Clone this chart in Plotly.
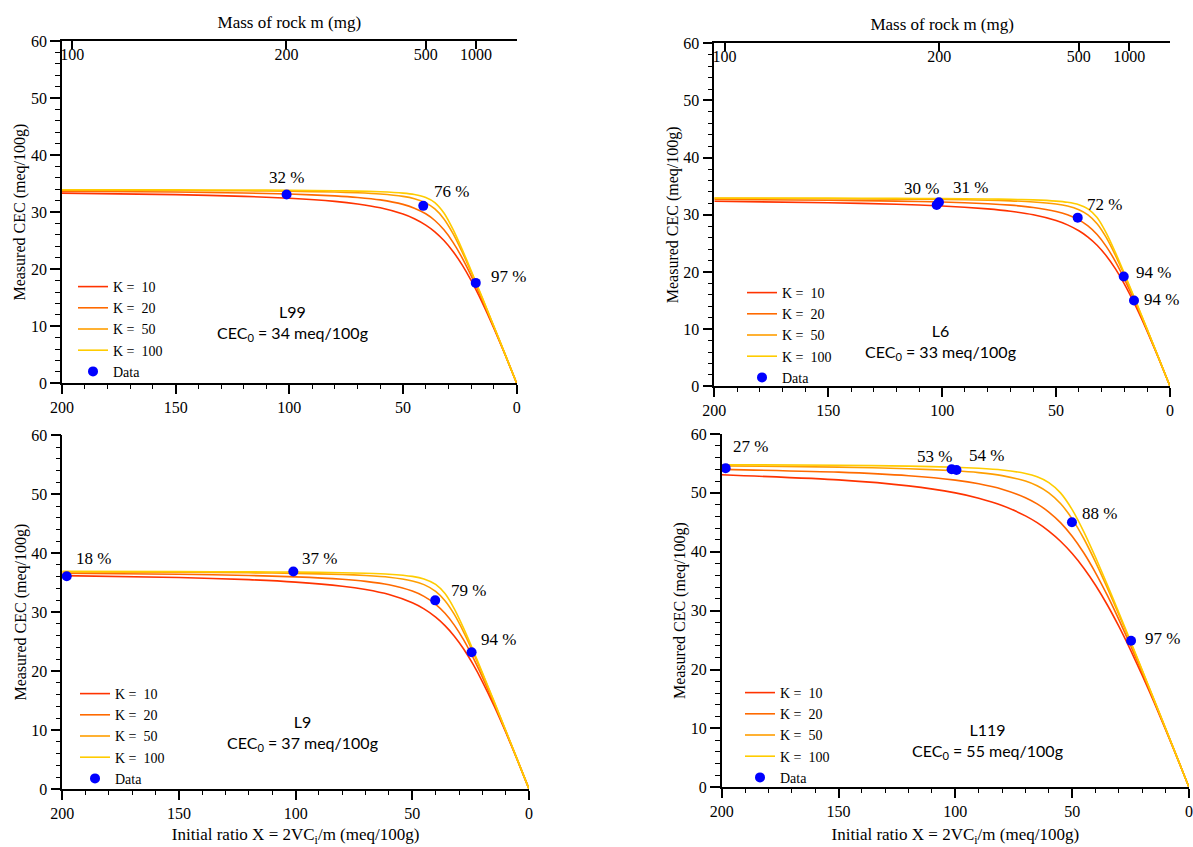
import plotly.graph_objects as go

# ------------------------------------------------------------------ data
K_LABELS = ['K =\u00a0 10', 'K =\u00a0 20', 'K =\u00a0 50', 'K =\u00a0 100']

X_A = [200, 150, 120, 100, 80, 70, 60, 50, 45, 40, 36, 32, 28, 24, 20, 15, 10, 5, 0]
X_B = [200, 150, 120, 100, 90, 80, 70, 65, 60, 55, 50, 45, 40, 35, 30, 25, 20, 15, 10, 5, 0]

# L99, CEC0 = 34
L99_K10 = [33.33, 33.07, 32.77, 32.44, 31.89, 31.44, 30.76, 29.67, 28.85, 27.73, 26.55, 25.02, 23.10, 20.75, 17.98, 14.02, 9.62, 4.92, 0]
L99_K20 = [33.66, 33.52, 33.36, 33.18, 32.85, 32.58, 32.15, 31.36, 30.70, 29.71, 28.54, 26.90, 24.71, 21.99, 18.83, 14.46, 9.80, 4.96, 0]
L99_K50 = [33.86, 33.80, 33.74, 33.66, 33.52, 33.39, 33.18, 32.76, 32.35, 31.62, 30.56, 28.81, 26.23, 23.03, 19.48, 14.77, 9.92, 4.98, 0]
L99_K100 = [33.93, 33.90, 33.87, 33.83, 33.75, 33.69, 33.57, 33.33, 33.08, 32.57, 31.68, 29.85, 26.97, 23.48, 19.73, 14.88, 9.96, 4.99, 0]
L99_DATA_X = [101.2, 41.1, 18.0]
L99_DATA_Y = [33.1, 31.1, 17.6]
L99_PCT = ['32 %', '76 %', '97 %']

# L6, CEC0 = 33
L6_K10 = [32.37, 32.12, 31.85, 31.55, 31.03, 30.62, 30.00, 29.00, 28.24, 27.21, 26.11, 24.68, 22.85, 20.59, 17.88, 13.97, 9.61, 4.91, 0]
L6_K20 = [32.68, 32.55, 32.40, 32.23, 31.94, 31.69, 31.29, 30.59, 30.00, 29.11, 28.05, 26.54, 24.48, 21.86, 18.76, 14.44, 9.79, 4.96, 0]
L6_K50 = [32.87, 32.82, 32.75, 32.68, 32.55, 32.44, 32.25, 31.88, 31.53, 30.90, 30.00, 28.45, 26.05, 22.95, 19.44, 14.76, 9.91, 4.98, 0]
L6_K100 = [32.93, 32.91, 32.88, 32.84, 32.77, 32.71, 32.61, 32.40, 32.19, 31.77, 31.05, 29.51, 26.83, 23.43, 19.71, 14.88, 9.96, 4.99, 0]
L6_DATA_X = [102.4, 101.4, 40.5, 20.3, 15.8]
L6_DATA_Y = [31.7, 32.2, 29.5, 19.2, 15.0]
L6_PCT = ['30 %', '31 %', '72 %', '94 %', '94 %']

# L9, CEC0 = 37
L9_K10 = [36.20, 35.87, 35.51, 35.10, 34.40, 33.83, 32.98, 31.58, 30.55, 29.16, 27.72, 25.93, 23.75, 21.17, 18.23, 14.13, 9.66, 4.92, 0]
L9_K20 = [36.59, 36.42, 36.22, 35.99, 35.58, 35.22, 34.64, 33.57, 32.67, 31.33, 29.81, 27.80, 25.28, 22.31, 19.00, 14.53, 9.82, 4.96, 0]
L9_K50 = [36.83, 36.76, 36.68, 36.58, 36.39, 36.22, 35.93, 35.30, 34.67, 33.53, 31.95, 29.62, 26.63, 23.22, 19.56, 14.80, 9.93, 4.98, 0]
L9_K100 = [36.92, 36.88, 36.84, 36.79, 36.69, 36.60, 36.44, 36.07, 35.64, 34.72, 33.15, 30.55, 27.24, 23.59, 19.77, 14.90, 9.96, 4.99, 0]
L9_DATA_X = [198.1, 101.0, 40.2, 24.6]
L9_DATA_Y = [36.1, 36.9, 32.0, 23.2]
L9_PCT = ['18 %', '37 %', '79 %', '94 %']

# L119, CEC0 = 55
L119_K10 = [53.08, 52.21, 51.19, 50.00, 49.10, 47.87, 46.10, 44.94, 43.51, 41.79, 39.70, 37.21, 34.31, 31.00, 27.31, 23.29, 19.00, 14.48, 9.79, 4.95, 0]
L119_K20 = [54.00, 53.52, 52.91, 52.16, 51.55, 50.63, 49.19, 48.13, 46.75, 44.95, 42.64, 39.79, 36.43, 32.62, 28.47, 24.06, 19.47, 14.73, 9.89, 4.97, 0]
L119_K50 = [54.59, 54.38, 54.11, 53.75, 53.44, 52.93, 52.00, 51.20, 50.00, 48.19, 45.59, 42.21, 38.25, 33.91, 29.33, 24.60, 19.78, 14.89, 9.96, 4.99, 0]
L119_K100 = [54.79, 54.69, 54.55, 54.35, 54.18, 53.89, 53.30, 52.73, 51.75, 50.00, 47.16, 43.38, 39.04, 34.42, 29.65, 24.80, 19.89, 14.94, 9.98, 4.99, 0]
L119_DATA_X = [198.3, 101.6, 99.5, 50.1, 24.8]
L119_DATA_Y = [54.2, 54.0, 53.9, 45.0, 24.9]
L119_PCT = ['27 %', '53 %', '54 %', '88 %', '97 %']

X_TICKS = [200, 150, 100, 50, 0]
Y_TICKS = [0, 10, 20, 30, 40, 50, 60]
MASS_TICK_X = [195.5, 101.3, 40.0, 17.9]
MASS_TICK_TEXT = ['100', '200', '500', '1000']

# ------------------------------------------------------------------ style
SERIF = 'Liberation Serif'
SANS = 'Lato'
COLORS = ['#ff3300', '#ff6a00', '#ff9e00', '#ffcc00']
BLUE = '#0000ff'
W, H = 1193, 847

panels = [
    dict(curves=[L99_K10, L99_K20, L99_K50, L99_K100], xg=X_A,
         dx=L99_DATA_X, dy=L99_DATA_Y, pct=L99_PCT,
         lab=[('center', 0, 17), ('left', 9, 14), ('left', 13, 6)],
         name='L99', cec='34', tx=98.4, ty=10.5,
         dom_x=(62, 516.7), dom_y=(41, 383.3), leg=(73, 271), top=True, bottom_title=False),
    dict(curves=[L6_K10, L6_K20, L6_K50, L6_K100], xg=X_A,
         dx=L6_DATA_X, dy=L6_DATA_Y, pct=L6_PCT,
         lab=[('right', 4, 17), ('left', 12, 15), ('left', 7, 13), ('left', 10, 4), ('left', 8, 1)],
         name='L6', cec='33', tx=100.9, ty=7.7,
         dom_x=(714.3, 1170), dom_y=(43.3, 386.3), leg=(742, 277), top=True, bottom_title=False),
    dict(curves=[L9_K10, L9_K20, L9_K50, L9_K100], xg=X_A,
         dx=L9_DATA_X, dy=L9_DATA_Y, pct=L9_PCT,
         lab=[('left', 7, 18), ('left', 7, 13), ('left', 14, 10), ('left', 7, 13)],
         name='L9', cec='37', tx=96.9, ty=9.5,
         dom_x=(62.3, 529), dom_y=(435.3, 789), leg=(75, 678), top=False, bottom_title=True),
    dict(curves=[L119_K10, L119_K20, L119_K50, L119_K100], xg=X_B,
         dx=L119_DATA_X, dy=L119_DATA_Y, pct=L119_PCT,
         lab=[('left', 5, 22), ('right', 2, 13), ('left', 10, 14), ('left', 8, 9), ('left', 12, 2)],
         name='L119', cec='55', tx=86.3, ty=7.8,
         dom_x=(721.7, 1189), dom_y=(434, 787.3), leg=(740, 677), top=False, bottom_title=True),
]

fig = go.Figure()
annotations = []
layout = dict(
    template='none',
    width=W, height=H, margin=dict(l=0, r=0, t=0, b=0, autoexpand=False),
    paper_bgcolor='white', plot_bgcolor='white', showlegend=True,
    font=dict(family=SERIF, color='black'),
)

top_count = 0
for i, p in enumerate(panels):
    sfx = '' if i == 0 else str(i + 1)
    xa, ya = 'x' + sfx, 'y' + sfx
    legname = 'legend' + sfx
    for j, curve in enumerate(p['curves']):
        fig.add_trace(go.Scatter(
            x=p['xg'], y=curve, mode='lines', name=K_LABELS[j],
            line=dict(color=COLORS[j], width=1.6, shape='spline', smoothing=0.6),
            xaxis=xa, yaxis=ya, legend=legname, hoverinfo='skip'))
    fig.add_trace(go.Scatter(
        x=p['dx'], y=p['dy'], mode='markers', name='Data',
        marker=dict(color=BLUE, size=10),
        error_y=dict(type='constant', value=0.3, color=BLUE, thickness=1, width=3),
        xaxis=xa, yaxis=ya, legend=legname, cliponaxis=False))

    x0, x1 = p['dom_x']
    y0, y1 = p['dom_y']
    xdom = [x0 / W, x1 / W]
    ydom = [1 - y1 / H, 1 - y0 / H]
    xax = dict(
        domain=xdom, anchor=ya, range=[200, 0], tickmode='array', tickvals=X_TICKS,
        automargin=False,
        ticks='outside', ticklen=9, tickwidth=1.5, tickcolor='black',
        showline=True, linecolor='black', linewidth=1.5,
        showgrid=False, zeroline=False,
        tickfont=dict(family=SERIF, size=16, color='black'),
        minor=dict(dtick=10, tick0=0, ticks='outside', ticklen=4, tickwidth=1.2, tickcolor='black', showgrid=False),
    )
    if p['bottom_title']:
        xax['title'] = dict(text='Initial ratio X = 2VC<sub>i</sub>/m (meq/100g)',
                            font=dict(family=SERIF, size=17, color='black'), standoff=11)
    yax = dict(
        domain=ydom, anchor=xa, range=[0, 60], tickmode='array', tickvals=Y_TICKS,
        automargin=False,
        ticks='outside', ticklen=10, tickwidth=1.5, tickcolor='black',
        showline=True, linecolor='black', linewidth=1.5,
        showgrid=False, zeroline=False,
        tickfont=dict(family=SERIF, size=16, color='black'),
        minor=dict(dtick=2, tick0=0, ticks='outside', ticklen=5, tickwidth=1.2, tickcolor='black', showgrid=False),
        title=dict(text='Measured CEC (meq/100g)', font=dict(family=SERIF, size=16, color='black'), standoff=1),
    )
    layout['xaxis' + sfx] = xax
    layout['yaxis' + sfx] = yax

    if p['top']:
        top_count += 1
        tsfx = str(4 + top_count)
        layout['xaxis' + tsfx] = dict(
            overlaying=xa, side='top', anchor=ya, range=[200, 0],
            automargin=False,
            tickmode='array', tickvals=MASS_TICK_X, ticktext=MASS_TICK_TEXT,
            ticks='inside', ticklen=8, tickwidth=1.5, tickcolor='black',
            ticklabelposition='inside', ticklabeloverflow='allow',
            showline=True, linecolor='black', linewidth=1.5,
            showgrid=False, zeroline=False,
            tickfont=dict(family=SERIF, size=16, color='black'),
            title=dict(text='Mass of rock m (mg)', font=dict(family=SERIF, size=17, color='black'), standoff=13),
        )
        fig.add_trace(go.Scatter(
            x=p['dx'], y=p['dy'], mode='markers', marker=dict(opacity=0),
            xaxis='x' + tsfx, yaxis=ya, showlegend=False, hoverinfo='skip'))

    lx, ly = p['leg']
    layout[legname] = dict(
        x=lx / W, y=1 - ly / H, xanchor='left', yanchor='top',
        bgcolor='rgba(0,0,0,0)', borderwidth=0,
        font=dict(family=SERIF, size=14, color='black'),
        tracegroupgap=0,
    )

    annotations.append(dict(
        x=p['tx'], y=p['ty'], xref=xa, yref=ya, showarrow=False,
        text=p['name'] + '<br>CEC<sub>0</sub> = ' + p['cec'] + ' meq/100g',
        font=dict(family=SANS, size=16, color='black'), align='center',
        xanchor='center', yanchor='middle'))

    for k, (xv, yv, txt) in enumerate(zip(p['dx'], p['dy'], p['pct'])):
        anc, xs, ys = p['lab'][k]
        annotations.append(dict(
            x=xv, y=yv, xref=xa, yref=ya, showarrow=False, text=txt,
            font=dict(family=SERIF, size=17, color='black'),
            xanchor=anc, yanchor='middle', xshift=xs, yshift=ys))

layout['annotations'] = annotations
fig.update_layout(**layout)
fig.write_html('out.html', config={'displayModeBar': False},
               post_script="document.body.style.margin='0';document.body.style.overflow='hidden';")
